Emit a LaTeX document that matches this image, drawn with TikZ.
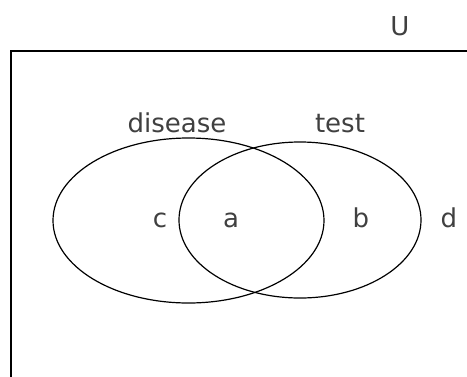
\documentclass[tikz,border=0pt]{standalone}
\usepackage{fontspec}
\newfontfamily\labelfont{DejaVu Sans}
\begin{document}
\begin{tikzpicture}[x=1pt,y=-1pt,
  setline/.style={line width=1.2pt,black},
  setlabel/.style={font=\labelfont\fontsize{26}{30}\selectfont,text=black!75,inner sep=0pt,anchor=base}]
\useasboundingbox (0,0) rectangle (467,376);
\clip (0,0) rectangle (467,376);
% universe
\draw[line width=1.4pt] (11,51) rectangle (490,400);
\node[setlabel] (U) at (400,35) {U};
% the two sets
\draw[setline] (188.5,220.5) ellipse [x radius=135.5, y radius=82.5];
\draw[setline] (300,220) ellipse [x radius=121, y radius=78];
\node[setlabel] (disease) at (177,132) {disease};
\node[setlabel] (test) at (340,132) {test};
% regions
\node[setlabel] (c) at (160,227) {c};
\node[setlabel] (a) at (231,227) {a};
\node[setlabel] (b) at (361,227) {b};
\node[setlabel] (d) at (449,227) {d};
\end{tikzpicture}
\end{document}
